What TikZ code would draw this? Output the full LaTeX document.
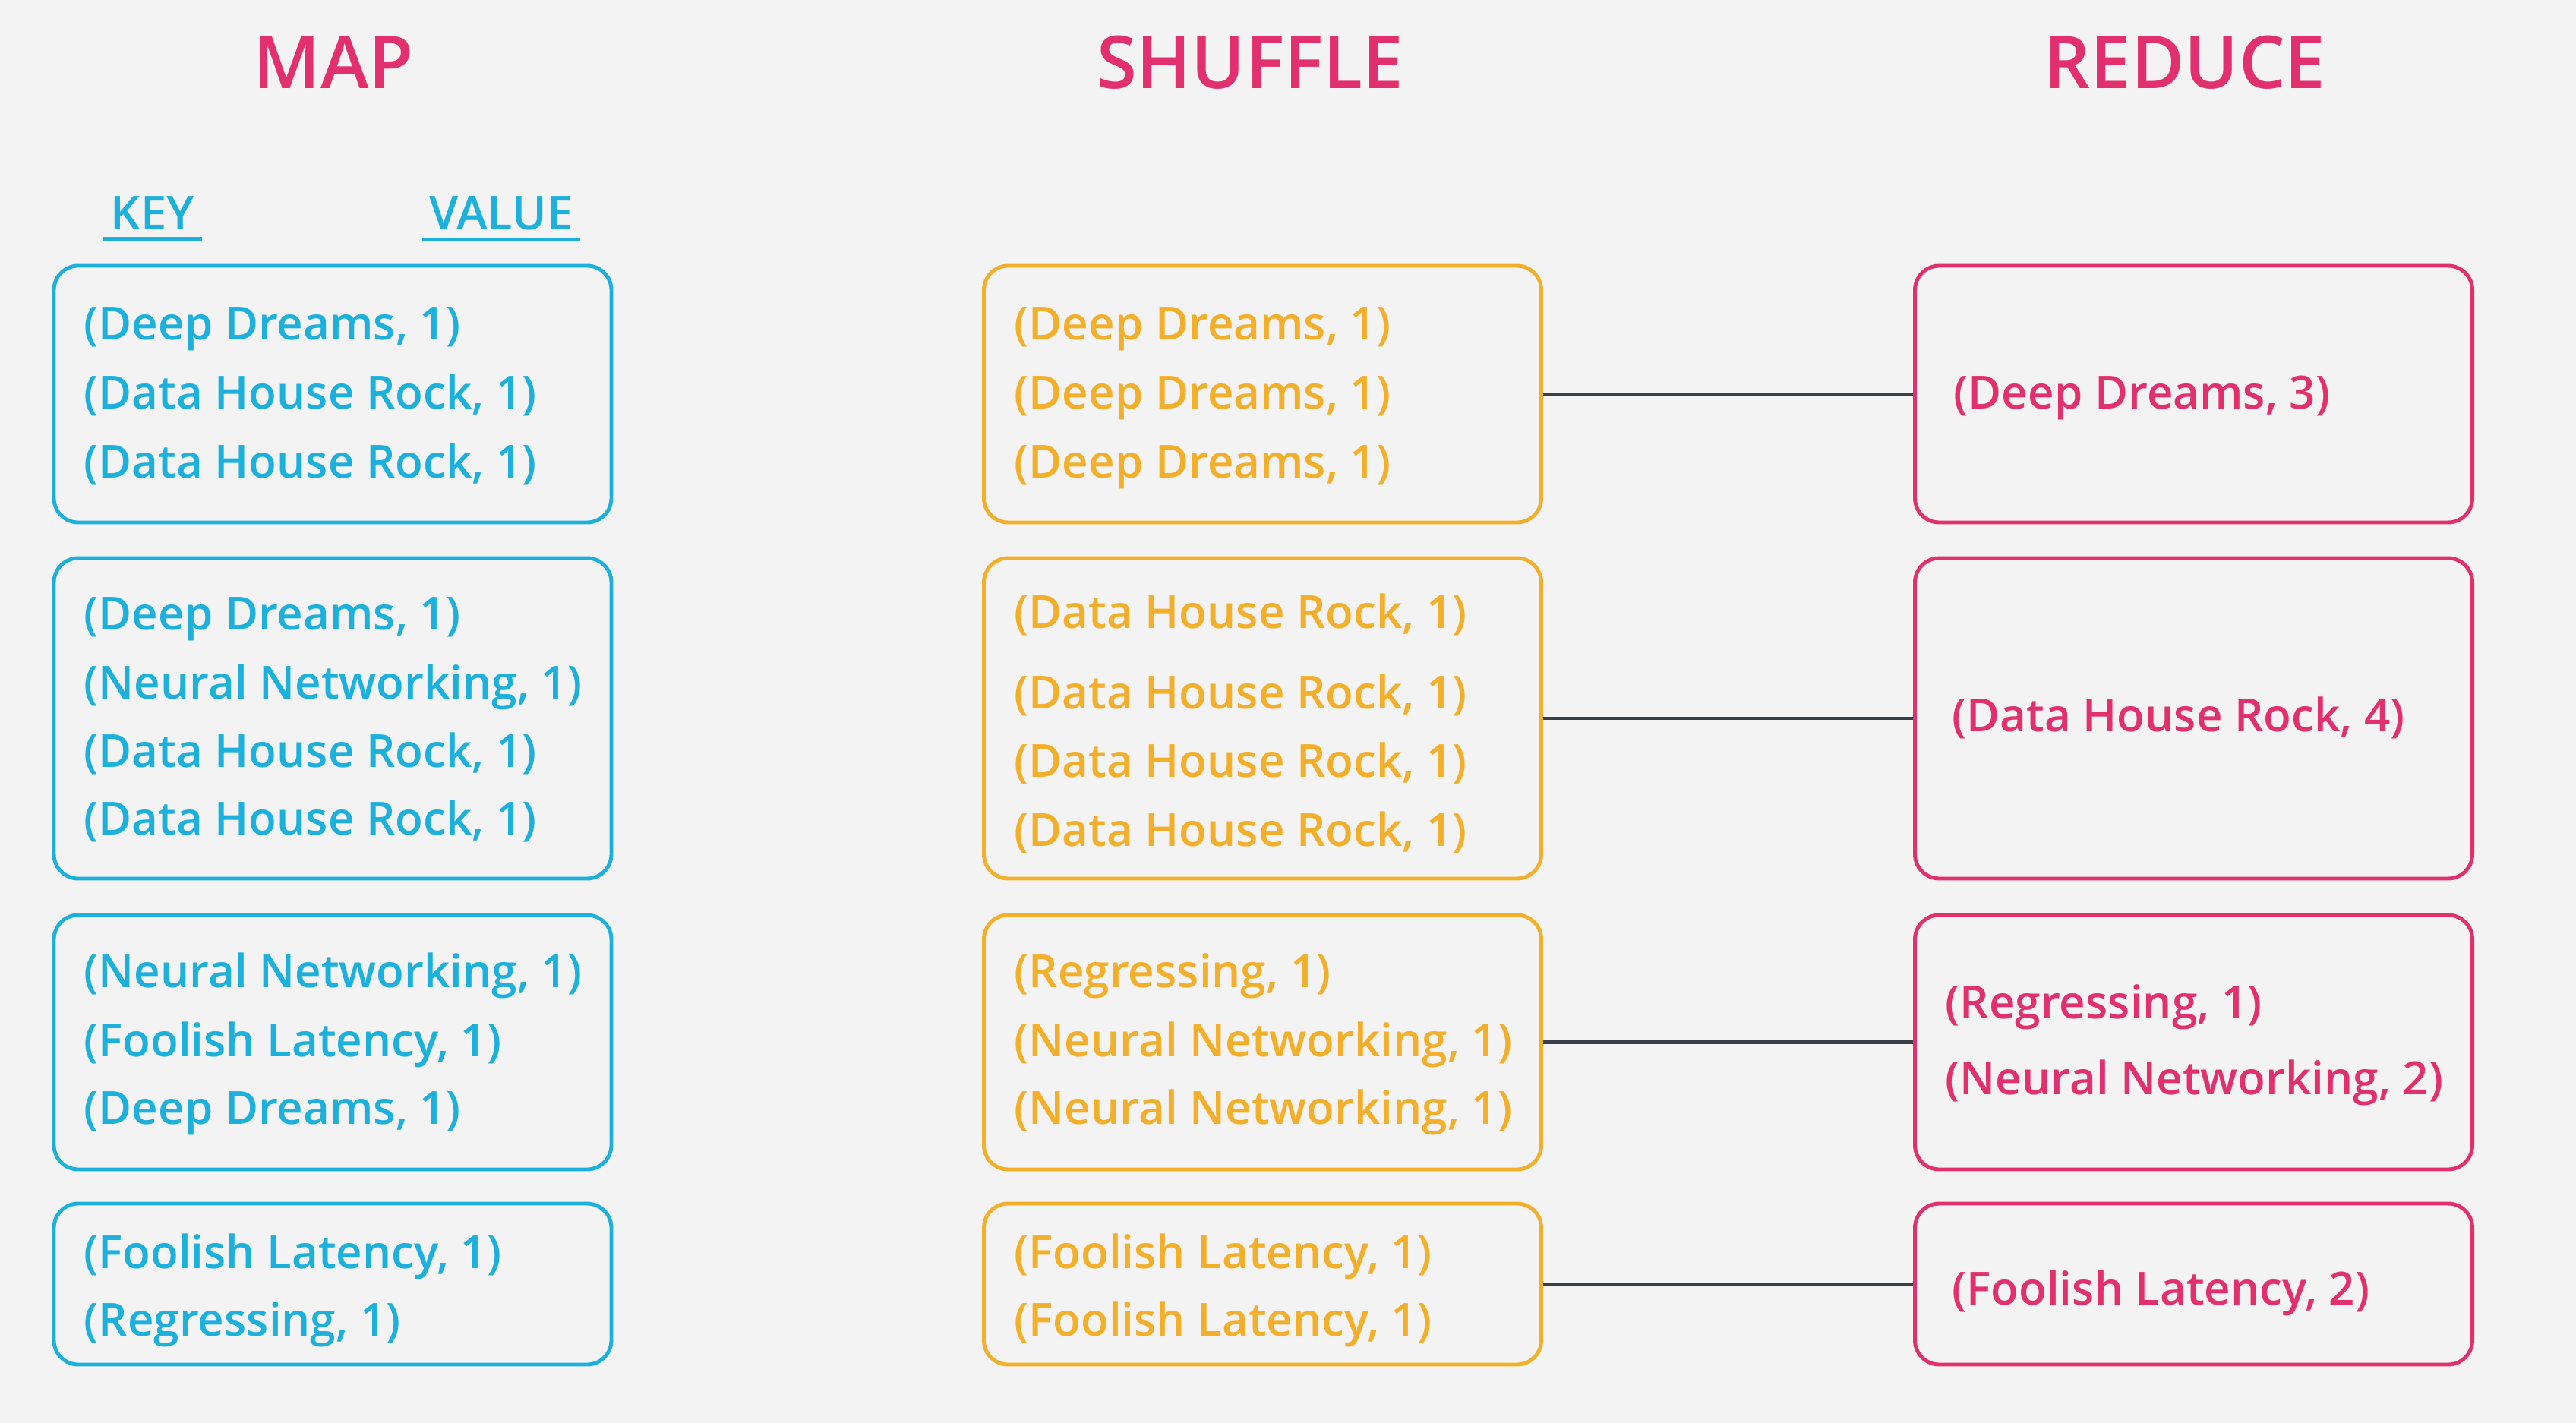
\documentclass[tikz,border=0pt]{standalone}
\usepackage{fontspec}
\setmainfont{Open Sans}[UprightFont={* Semibold}]
\usepackage{tikz}
\usetikzlibrary{positioning}
\definecolor{mapblue}{HTML}{1CB1DD}
\definecolor{shuforange}{HTML}{F3AF2A}
\definecolor{reducepink}{HTML}{E2306F}
\definecolor{linkgray}{HTML}{3A4048}
\definecolor{bggray}{HTML}{F3F3F3}
\tikzset{
  stagebox/.style={draw, line width=1.4pt, rounded corners=0.32cm, minimum width=7.34cm, inner sep=0pt},
  pair/.style={anchor=base west, inner sep=0pt, font=\fontsize{17.1}{20}\selectfont},
  heading/.style={text=reducepink, font=\fontsize{27.3}{32}\selectfont},
  keyval/.style={text=mapblue, inner xsep=0.09cm, inner ysep=0.11cm, font=\fontsize{17.5}{20}\selectfont},
  link/.style={draw=linkgray, line width=1.2pt},
}

\begin{document}
\begin{tikzpicture}[x=1cm,y=-1cm]
        \fill[bggray] (0,0) rectangle (33.92,18.74);
        \useasboundingbox (0,0) rectangle (33.92,18.74);
        % titles
        \node[heading] (map) at (4.39,0.82) {MAP};
        \node[heading] (shuffle) at (16.46,0.82) {SHUFFLE};
        \node[heading] (reduce) at (28.77,0.82) {REDUCE};
        \node[keyval] (key) at (2.01,2.81) {KEY};
        \node[keyval] (value) at (6.60,2.81) {VALUE};
        \draw[mapblue, line width=1.4pt] (key.south west) -- (key.south east);
        \draw[mapblue, line width=1.4pt] (value.south west) -- (value.south east);
        % boxes
        \foreach \c/\col/\n in {4.38/mapblue/m, 16.625/shuforange/s, 28.885/reducepink/r} {
            \node[stagebox, draw=\col, minimum height=3.38cm] (\n1) at (\c,5.19) {};
            \node[stagebox, draw=\col, minimum height=4.22cm] (\n2) at (\c,9.46) {};
            \node[stagebox, draw=\col, minimum height=3.35cm] (\n3) at (\c,13.725) {};
            \node[stagebox, draw=\col, minimum height=2.12cm] (\n4) at (\c,16.91) {};
        }
        % map
        \foreach \y/\t [count=\i] in {4.48/{(Deep Dreams, 1)}, 5.39/{(Data House Rock, 1)}, 6.30/{(Data House Rock, 1)}}
            \node[pair, text=mapblue] (m1-\i) at (1.10,\y) {\t};
        \foreach \y/\t [count=\i] in {8.29/{(Deep Dreams, 1)}, 9.20/{(Neural Networking, 1)}, 10.10/{(Data House Rock, 1)}, 10.99/{(Data House Rock, 1)}}
            \node[pair, text=mapblue] (m2-\i) at (1.10,\y) {\t};
        \foreach \y/\t [count=\i] in {13.00/{(Neural Networking, 1)}, 13.91/{(Foolish Latency, 1)}, 14.80/{(Deep Dreams, 1)}}
            \node[pair, text=mapblue] (m3-\i) at (1.10,\y) {\t};
        \foreach \y/\t [count=\i] in {16.70/{(Foolish Latency, 1)}, 17.59/{(Regressing, 1)}}
            \node[pair, text=mapblue] (m4-\i) at (1.10,\y) {\t};
        % shuffle
        \foreach \y/\t [count=\i] in {4.48/{(Deep Dreams, 1)}, 5.39/{(Deep Dreams, 1)}, 6.30/{(Deep Dreams, 1)}}
            \node[pair, text=shuforange] (s1-\i) at (13.35,\y) {\t};
        \foreach \y/\t [count=\i] in {8.27/{(Data House Rock, 1)}, 9.33/{(Data House Rock, 1)}, 10.23/{(Data House Rock, 1)}, 11.14/{(Data House Rock, 1)}}
            \node[pair, text=shuforange] (s2-\i) at (13.35,\y) {\t};
        \foreach \y/\t [count=\i] in {13.00/{(Regressing, 1)}, 13.91/{(Neural Networking, 1)}, 14.80/{(Neural Networking, 1)}}
            \node[pair, text=shuforange] (s3-\i) at (13.35,\y) {\t};
        \foreach \y/\t [count=\i] in {16.70/{(Foolish Latency, 1)}, 17.59/{(Foolish Latency, 1)}}
            \node[pair, text=shuforange] (s4-\i) at (13.35,\y) {\t};
        % reduce
        \node[pair, text=reducepink] (r1-1) at (25.72,5.39) {(Deep Dreams, 3)};
        \node[pair, text=reducepink] (r2-1) at (25.70,9.63) {(Data House Rock, 4)};
        \node[pair, text=reducepink] (r3-1) at (25.61,13.41) {(Regressing, 1)};
        \node[pair, text=reducepink] (r3-2) at (25.61,14.41) {(Neural Networking, 2)};
        \node[pair, text=reducepink] (r4-1) at (25.70,17.18) {(Foolish Latency, 2)};
        % links
        \foreach \i in {1,...,4}
            \draw[link] (s\i) -- (r\i);
    \end{tikzpicture}
\end{document}
